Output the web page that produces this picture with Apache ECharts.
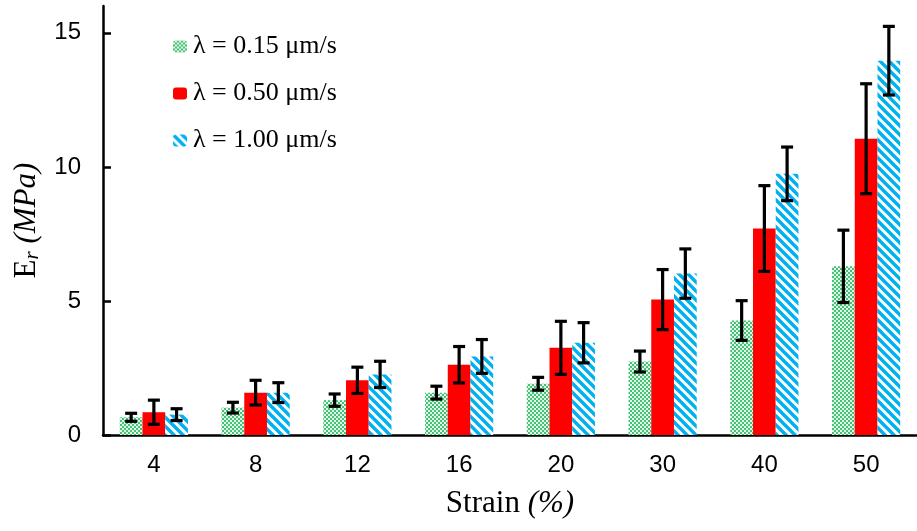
<!DOCTYPE html>
<html><head><meta charset="utf-8">
<script src="https://cdn.jsdelivr.net/npm/echarts@6/dist/echarts.min.js"></script>
<style>html,body{margin:0;padding:0;background:#fff}#c{width:917px;height:531px}</style>
</head><body><div id="c"></div>
<script>
// ---- data ----
const categories = ['4', '8', '12', '16', '20', '30', '40', '50'];
const seriesNames = ['λ = 0.15 μm/s', 'λ = 0.50 μm/s', 'λ = 1.00 μm/s'];
const v015 = [0.66, 1.02, 1.30, 1.58, 1.91, 2.74, 4.27, 6.29];
const e015 = [0.15, 0.20, 0.23, 0.24, 0.24, 0.39, 0.74, 1.35];
const v050 = [0.85, 1.58, 2.04, 2.62, 3.25, 5.05, 7.70, 11.05];
const e050 = [0.45, 0.46, 0.49, 0.68, 0.99, 1.12, 1.60, 2.05];
const v100 = [0.76, 1.58, 2.26, 2.93, 3.44, 6.02, 9.74, 13.96];
const e100 = [0.22, 0.37, 0.49, 0.63, 0.75, 0.92, 1.00, 1.28];
const yTicks = [0, 5, 10, 15];

// ---- patterns ----
function checker() {
  const c = document.createElement('canvas'); c.width = 4; c.height = 4;
  const g = c.getContext('2d');
  g.fillStyle = '#e2f6e8'; g.fillRect(0, 0, 4, 4);
  g.fillStyle = '#45c077'; g.fillRect(0, 0, 2, 2); g.fillRect(2, 2, 2, 2);
  return c;
}
function stripes() {
  const n = 9;
  const c = document.createElement('canvas'); c.width = n; c.height = n;
  const g = c.getContext('2d');
  g.fillStyle = '#ffffff'; g.fillRect(0, 0, n, n);
  g.strokeStyle = '#00b0f0'; g.lineWidth = 3.4;
  for (let k = -n; k <= n; k += n) {
    g.beginPath(); g.moveTo(k - 1, -1); g.lineTo(k + n + 1, n + 1); g.stroke();
  }
  return c;
}
const colors = [
  { image: checker(), repeat: 'repeat' },
  '#ff0000',
  { image: stripes(), repeat: 'repeat' }
];
const GAP = 0.33;

function errSeries(idx, vals, errs) {
  return {
    type: 'custom', z: 10, silent: true,
    renderItem: function (params, api) {
      const i = api.value(0), v = api.value(1), e = api.value(2);
      const band = api.size([1, 0])[0];
      const bw = band * (1 - GAP) / 3;
      const x = api.coord([i, v])[0] + (idx - 1) * bw;
      const yT = api.coord([i, v + e])[1];
      const yB = api.coord([i, v - e])[1];
      const cap = 6;
      const st = { stroke: '#000', lineWidth: 3.2 };
      return { type: 'group', children: [
        { type: 'line', shape: { x1: x, y1: yT, x2: x, y2: yB }, style: st },
        { type: 'line', shape: { x1: x - cap, y1: yT, x2: x + cap, y2: yT }, style: st },
        { type: 'line', shape: { x1: x - cap, y1: yB, x2: x + cap, y2: yB }, style: st }
      ]};
    },
    encode: { x: 0, y: 1 },
    data: vals.map((v, i) => [i, v, errs[i]])
  };
}

const chart = echarts.init(document.getElementById('c'), null, { renderer: 'canvas' });
const vals = [v015, v050, v100];
const errs = [e015, e050, e100];
const option = {
  animation: false,
  backgroundColor: '#fff',
  grid: { left: 103, right: -3, top: 6, bottom: 96, containLabel: false },
  legend: {
    data: seriesNames, orient: 'vertical', left: 168, top: 26,
    itemWidth: 14, itemHeight: 12, itemGap: 16,
    textStyle: { fontFamily: 'Liberation Serif', fontSize: 26, color: '#000', lineHeight: 31, padding: [0, 0, 0, 1] }
  },
  xAxis: {
    type: 'category', data: categories,
    axisLine: { lineStyle: { color: '#000', width: 2.5 } },
    axisTick: { inside: true, length: 7, lineStyle: { color: '#000', width: 2.5 } },
    axisLabel: { margin: 18, fontFamily: 'Liberation Sans', fontSize: 24, color: '#000' },
    name: '{n|Strain }{i|(%)}', nameLocation: 'middle', nameGap: 53,
    nameTextStyle: { rich: {
      n: { fontFamily: 'Liberation Serif', fontSize: 31, color: '#000' },
      i: { fontFamily: 'Liberation Serif', fontSize: 31, fontStyle: 'italic', color: '#000' }
    } }
  },
  yAxis: {
    type: 'value', min: 0, max: 16, interval: 5,
    splitLine: { show: false },
    axisLine: { show: true, lineStyle: { color: '#000', width: 2.5 } },
    axisTick: { show: true, inside: true, length: 8, customValues: yTicks, lineStyle: { color: '#000', width: 2.5 } },
    axisLabel: { margin: 22, fontFamily: 'Liberation Sans', fontSize: 24, color: '#000', customValues: yTicks },
    name: '{e|E}{r|r}{s| }{i|(MPa)}', nameLocation: 'middle', nameRotate: 90, nameGap: 58,
    nameTextStyle: { rich: {
      e: { fontFamily: 'Liberation Serif', fontSize: 31, color: '#000', lineHeight: 34 },
      r: { fontFamily: 'Liberation Serif', fontSize: 21, fontStyle: 'italic', color: '#000', lineHeight: 34, verticalAlign: 'bottom', padding: [10, 0, 0, 0] },
      s: { fontFamily: 'Liberation Serif', fontSize: 31, lineHeight: 34 },
      i: { fontFamily: 'Liberation Serif', fontSize: 31, fontStyle: 'italic', color: '#000', lineHeight: 34 }
    } }
  },
  series: [
    ...seriesNames.map((n, k) => ({
      type: 'bar', name: n, data: vals[k],
      barGap: '0%', barCategoryGap: (GAP * 100) + '%',
      itemStyle: { color: colors[k] }
    })),
    ...[0, 1, 2].map(k => errSeries(k, vals[k], errs[k]))
  ]
};
chart.setOption(option);
</script></body></html>
